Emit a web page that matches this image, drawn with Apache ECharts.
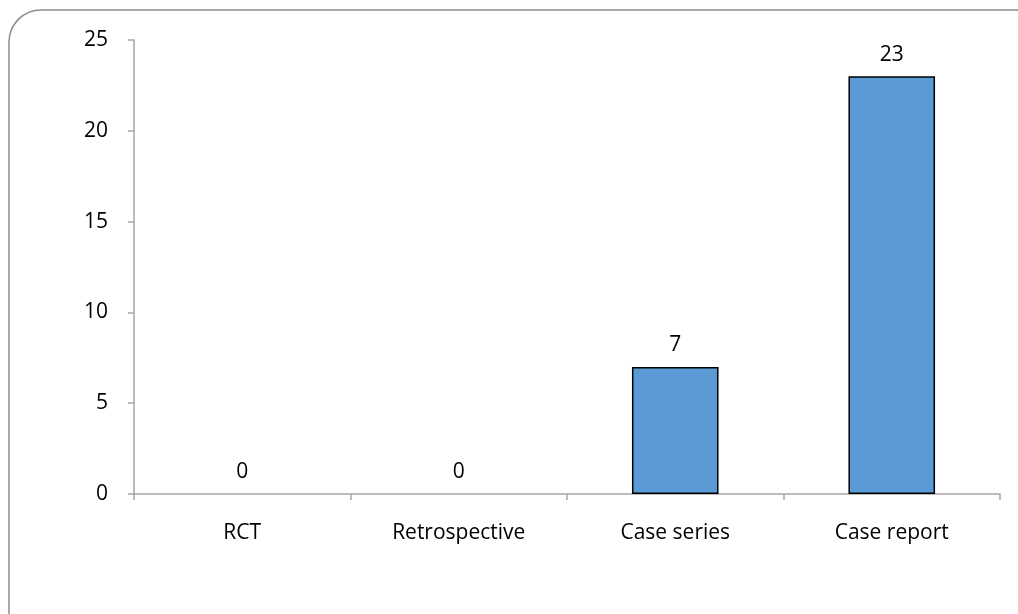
<!DOCTYPE html>
<html>
<head>
<meta charset="utf-8">
<script src="https://cdn.jsdelivr.net/npm/echarts@6/dist/echarts.min.js"></script>
<style>
  html, body { margin: 0; padding: 0; background: #ffffff; }
  #chart { width: 1018px; height: 614px; }
</style>
</head>
<body>
<div id="chart"></div>
<script>
// Study designs and number of publications
const categories = ['RCT', 'Retrospective', 'Case series', 'Case report'];
const counts = [0, 0, 7, 23];

const chart = echarts.init(document.getElementById('chart'), null, { renderer: 'canvas' });
const font = '"Open Sans", "Noto Sans", sans-serif';

// zero-height bars get no outline, only their value label
const barData = counts.map(v => v === 0
  ? { value: v, itemStyle: { borderWidth: 0 } }
  : { value: v });

chart.setOption({
  animation: false,
  backgroundColor: '#ffffff',
  graphic: [{
    type: 'rect',
    shape: { x: 9, y: 10, width: 1040, height: 640, r: 32 },
    style: { fill: 'none', stroke: '#8c8c8c', lineWidth: 1.5 },
    silent: true,
    z: -1
  }],
  grid: { left: 134, right: 18, top: 40, bottom: 120, containLabel: false },
  xAxis: {
    type: 'category',
    data: categories,
    axisLine: { lineStyle: { color: '#a6a6a6', width: 1.5 } },
    axisTick: { show: true, length: 6, alignWithLabel: false, lineStyle: { color: '#a6a6a6', width: 1.5 } },
    axisLabel: { color: '#000000', fontFamily: font, fontSize: 21, margin: 29 },
    splitLine: { show: false }
  },
  yAxis: {
    type: 'value',
    min: 0,
    max: 25,
    interval: 5,
    axisLine: { show: true, lineStyle: { color: '#a6a6a6', width: 1.5 } },
    axisTick: { show: true, length: 6, lineStyle: { color: '#a6a6a6', width: 1.5 } },
    axisLabel: { color: '#000000', fontFamily: font, fontSize: 21, margin: 26 },
    splitLine: { show: false }
  },
  series: [{
    type: 'bar',
    data: barData,
    barWidth: '40%',
    itemStyle: { color: '#5b9bd5', borderColor: '#000000', borderWidth: 1.5 },
    label: {
      show: true,
      position: 'top',
      distance: 11,
      color: '#000000',
      fontFamily: font,
      fontSize: 21
    }
  }]
});
</script>
</body>
</html>
